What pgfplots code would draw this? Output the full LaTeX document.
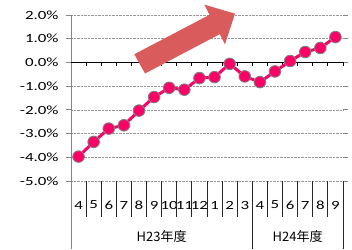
\documentclass[border=0pt]{standalone}
\usepackage{fontspec}
\setmainfont{Carlito}[FakeStretch=1.35]
\newfontfamily\jp{Noto Sans CJK JP}
\usepackage{pgfplots}
\pgfplotsset{compat=1.18}
\definecolor{ptpink}{RGB}{255,0,102}
\definecolor{arrowred}{RGB}{217,91,91}
\definecolor{axgray}{RGB}{134,134,134}
\begin{document}
\begin{tikzpicture}[font=\fontsize{12.5}{14}\selectfont]
\useasboundingbox (-71pt,-68pt) rectangle (281pt,181pt);
\begin{axis}[
  at={(0,0)}, anchor=south west,
  scale only axis, width=272pt, height=166pt,
  xmin=-0.5, xmax=17.5, ymin=-5, ymax=2,
  clip=false,
  axis line style={draw=none},
  xtick={0,...,17},
  xticklabels={4,5,6,7,8,9,10,11,12,1,2,3,4,5,6,7,8,9},
  xtick style={draw=none},
  xticklabel style={anchor=center, yshift=-19pt},
  ytick={-5,-4,...,2},
  yticklabels={-5.0\%,-4.0\%,-3.0\%,-2.0\%,-1.0\%,0.0\%,1.0\%,2.0\%},
  ytick style={axgray, line width=0.8pt},
  tick align=outside, major tick length=5pt,
  yticklabel style={xshift=-4pt},
  ymajorgrids,
  major grid style={densely dotted, gray!80, line width=0.7pt},
]
% y axis line
\draw[axgray, line width=0.9pt] (axis cs:-0.5,2) -- ([yshift=-68pt]axis cs:-0.5,-5);
% month separators
\pgfplotsinvokeforeach{0.5,1.5,...,10.5}{\draw[black!85, line width=0.8pt] (axis cs:#1,-5) -- ([yshift=-36pt]axis cs:#1,-5);}
\pgfplotsinvokeforeach{12.5,13.5,...,16.5}{\draw[black!85, line width=0.8pt] (axis cs:#1,-5) -- ([yshift=-36pt]axis cs:#1,-5);}
\pgfplotsinvokeforeach{11.5,17.5}{\draw[black!85, line width=0.8pt] (axis cs:#1,-5) -- ([yshift=-68pt]axis cs:#1,-5);}
% zero line
\draw[black, line width=1pt] (axis cs:-0.5,0) -- (axis cs:17.5,0);
\pgfplotsinvokeforeach{0.5,1.5,...,17.5}{\draw[black, line width=0.8pt] (axis cs:#1,0) -- ([yshift=-4pt]axis cs:#1,0);}
% group labels
\node[font=\jp\fontsize{13}{15}\selectfont] at ([yshift=-56pt]axis cs:5.5,-5) {H23年度};
\node[font=\jp\fontsize{13}{15}\selectfont] at ([yshift=-56pt]axis cs:14.5,-5) {H24年度};
% arrow
\fill[arrowred] (axis cs:3.689,0.345) -- (axis cs:8.666,2.008) -- (axis cs:8.321,2.437) -- (axis cs:10.353,2.058) -- (axis cs:9.691,0.766) -- (axis cs:9.341,1.191) -- (axis cs:4.397,-0.467) -- cycle;
\addplot[ptpink, line width=3pt, mark=*, mark size=5.8pt,
  mark options={fill=ptpink, draw=gray, line width=0.9pt}] coordinates {
  (0,-3.97) (1,-3.35) (2,-2.79) (3,-2.65) (4,-2.03) (5,-1.46)
  (6,-1.07) (7,-1.15) (8,-0.66) (9,-0.62) (10,-0.06) (11,-0.59)
  (12,-0.83) (13,-0.38) (14,0.06) (15,0.44) (16,0.61) (17,1.07)
};
\end{axis}
\end{tikzpicture}
\end{document}
